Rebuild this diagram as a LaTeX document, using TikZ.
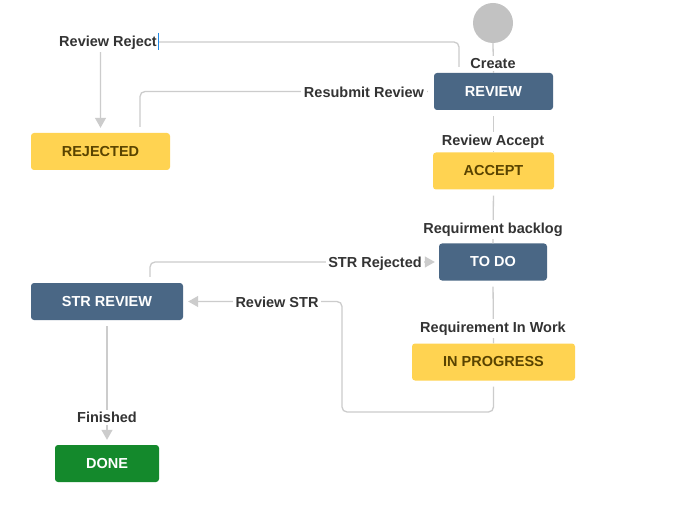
\documentclass[tikz,border=0pt]{standalone}
\usepackage{fontspec}
\setmainfont{Liberation Sans}
\usetikzlibrary{arrows.meta}
\definecolor{linegray}{HTML}{CCCCCC}
\definecolor{startgray}{HTML}{C2C2C2}
\definecolor{bluebox}{HTML}{4A6785}
\definecolor{yellowbox}{HTML}{FFD351}
\definecolor{yellowtext}{HTML}{594300}
\definecolor{greenbox}{HTML}{14892C}
\definecolor{labtext}{HTML}{333333}
\definecolor{cursorblue}{HTML}{1E88E5}
\begin{document}
\begin{tikzpicture}[x=1pt,y=-1pt,
  txt/.style={font=\bfseries\fontsize{14.5}{17}\selectfont},
  state/.style={txt, rounded corners=3pt, minimum height=37pt, inner sep=0pt},
  bluestate/.style={state, fill=bluebox, text=white},
  yellowstate/.style={state, fill=yellowbox, text=yellowtext},
  greenstate/.style={state, fill=greenbox, text=white},
  lab/.style={txt, fill=white, text=labtext, inner sep=2.5pt, yshift=-1.5pt},
  conn/.style={draw=linegray, line width=1.3pt, rounded corners=5pt},
  arr/.style={-{Triangle[width=11pt,length=10pt]}}
]
\useasboundingbox (0,0) rectangle (688,513);
\fill[white] (0,0) rectangle (688,513);

% states
\node[circle, fill=startgray, minimum size=40pt, inner sep=0pt] (start) at (493,23) {};
\node[bluestate, minimum width=119pt] (review) at (493.5,91.5) {REVIEW};
\node[yellowstate, minimum width=121pt] (accept) at (493.5,171) {ACCEPT};
\node[bluestate, minimum width=108pt] (todo) at (493,262) {TO DO};
\node[yellowstate, minimum width=163pt] (inprogress) at (493.5,362) {IN PROGRESS};
\node[bluestate, minimum width=152pt] (strreview) at (107,301.5) {STR REVIEW};
\node[greenstate, minimum width=104pt] (done) at (107,463.5) {DONE};
\node[yellowstate, minimum width=139pt] (rejected) at (100.5,151.5) {REJECTED};

% helper coordinates
\coordinate (b1) at (342,412);
\coordinate (c8) at (300,42);

% connectors
\draw[conn] (start.south) -- (review.north);
\draw[conn, shorten <=6pt] (review.south) -- (accept.north);
\draw[conn, shorten <=6pt] (accept.south) -- (todo.north);
\draw[conn, shorten <=6pt] (todo.south) -- (inprogress.north);
\draw[conn, arr, shorten >=5pt] ([yshift=-6pt]inprogress.south) |- (b1) |- (strreview.east);
\draw[conn, arr, shorten >=4pt] ([xshift=43pt,yshift=6pt]strreview.north) |- (todo.west);
\draw[conn, arr, shorten <=6pt, shorten >=5pt] (strreview.south) -- (done.north);
\draw[conn, arr, shorten >=5pt] ([xshift=-34.5pt,yshift=6pt]review.north) |- (c8) -| (rejected.north);
\draw[conn, shorten >=6pt] ([xshift=39.5pt,yshift=6pt]rejected.north) |- (review.west);

% labels
\node[lab] (lcreate) at (493,62) {Create};
\node[lab] (laccept) at (493,140) {Review Accept};
\node[lab] (lbacklog) at (493,228) {Requirment backlog};
\node[lab] (lwork) at (493,327) {Requirement In Work};
\node[lab] (lstrrej) at (375,262) {STR Rejected};
\node[lab] (lrevstr) at (277,301) {Review STR};
\node[lab] (lfinished) at (107,416) {Finished};
\node[lab] (lreject) at (108,41) {Review Reject};
\node[lab] (lresubmit) at (364,91) {Resubmit Review};

% text cursor
\draw[cursorblue, line width=0.9pt] (158.5,33) -- (158.5,50);
\end{tikzpicture}
\end{document}
